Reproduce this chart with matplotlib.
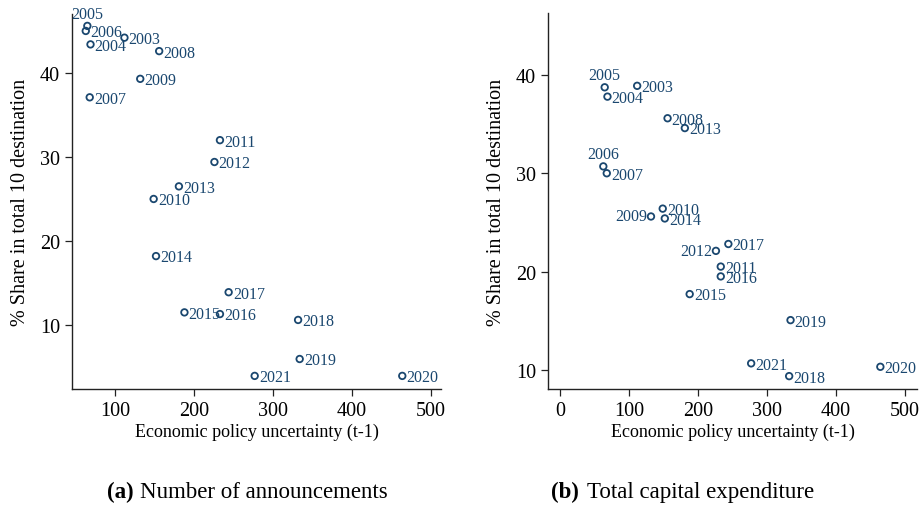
import numpy as np
import matplotlib
matplotlib.use("Agg")
from matplotlib import pyplot as plt

# Economic policy uncertainty (t-1), same for both panels
years = [2003, 2004, 2005, 2006, 2007, 2008, 2009, 2010, 2011, 2012,
         2013, 2014, 2015, 2016, 2017, 2018, 2019, 2020, 2021]
epu = [112, 69, 65, 63, 68, 156, 132, 149, 233, 226,
       181, 152, 188, 233, 244, 332, 334, 464, 277]

# % share in total of 10 destinations
share_announcements = [44.2, 43.4, 45.6, 45.0, 37.1, 42.6, 39.3, 25.0, 32.0, 29.4,
                       26.5, 18.2, 11.5, 11.3, 13.9, 10.6, 5.95, 3.94, 3.94]
share_capex = [38.9, 37.8, 38.75, 30.7, 30.0, 35.6, 25.6, 26.4, 20.5, 22.1,
               34.6, 25.4, 17.7, 19.5, 22.8, 9.35, 15.05, 10.3, 10.65]

# label position (clock style, like Stata mlabpos)
pos_a = {2005: 12}
pos_b = {2005: 12, 2006: 12, 2009: 9, 2012: 9}

navy = "#1a476f"
serif = ["Liberation Serif", "DejaVu Serif"]
plt.rcParams['font.family'] = serif


def scatter_panel(ax, x, y, positions, xlim, ylim, xticks, yticks):
    ax.scatter(x, y, s=22, facecolors='none', edgecolors=navy, linewidths=1.3, zorder=3)
    for yr, xi, yi in zip(years, x, y):
        p = positions.get(yr, 3)
        if p == 12:
            ax.annotate(str(yr), (xi, yi), xytext=(0, 3), textcoords='offset points',
                        ha='center', va='bottom', color=navy, fontsize=11.5)
        elif p == 9:
            ax.annotate(str(yr), (xi, yi), xytext=(-3, 0), textcoords='offset points',
                        ha='right', va='center', color=navy, fontsize=11.5)
        else:
            ax.annotate(str(yr), (xi, yi), xytext=(3, -1), textcoords='offset points',
                        ha='left', va='center', color=navy, fontsize=11.5)
    ax.set_xlim(*xlim)
    ax.set_ylim(*ylim)
    ax.set_xticks(xticks)
    ax.set_yticks(yticks)
    ax.spines['top'].set_visible(False)
    ax.spines['right'].set_visible(False)
    for s in ('left', 'bottom'):
        ax.spines[s].set_linewidth(1.0)
        ax.spines[s].set_color('#222222')
    ax.tick_params(labelsize=14.5, length=5, width=0.9, color='#222222')
    ax.set_xlabel('Economic policy uncertainty (t-1)', fontsize=13, labelpad=2)
    ax.set_ylabel('% Share in total 10 destination', fontsize=14.5, labelpad=7)


fig = plt.figure(figsize=(9.2, 5.1), dpi=100)
ax1 = fig.add_axes([0.0783, 0.2353, 0.401, 0.735])
ax2 = fig.add_axes([0.5957, 0.2353, 0.401, 0.737])

scatter_panel(ax1, epu, share_announcements, pos_a,
              (45.6, 513), (2.38, 47.0), [100, 200, 300, 400, 500], [10, 20, 30, 40])
scatter_panel(ax2, epu, share_capex, pos_b,
              (-17, 517), (8.04, 46.3), [0, 100, 200, 300, 400, 500], [10, 20, 30, 40])

# sub-captions: bold panel letter + plain title
cap_y = 12 / 510
fig.text(107 / 920, cap_y, '(a)', ha='left', va='baseline', fontsize=16.5, fontweight='bold')
fig.text(140 / 920, cap_y, 'Number of announcements', ha='left', va='baseline', fontsize=16.5)
fig.text(551 / 920, cap_y, '(b)', ha='left', va='baseline', fontsize=16.5, fontweight='bold')
fig.text(587 / 920, cap_y, 'Total capital expenditure', ha='left', va='baseline', fontsize=16.5)

fig.savefig('out.png', dpi=100)
